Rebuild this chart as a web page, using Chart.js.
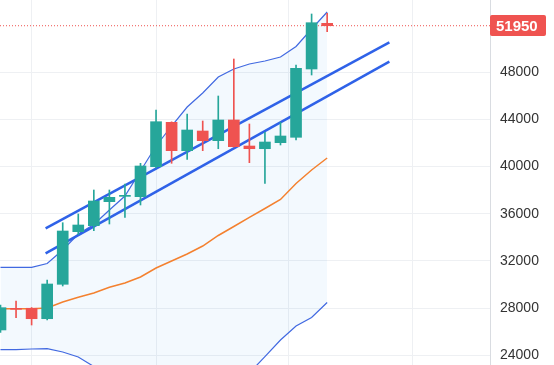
<!DOCTYPE html>
<html><head><meta charset="utf-8">
<script src="https://cdn.jsdelivr.net/npm/chart.js@4/dist/chart.umd.min.js"></script>
<style>html,body{margin:0;padding:0;background:#fff;overflow:hidden}canvas{display:block}</style>
</head><body>
<canvas id="c" width="554" height="365"></canvas>
<script>
// ---- data ----
const opens  = [26150, 27960, 27990, 27105, 30022, 34483, 34992, 37027, 37480, 37451, 39995, 43760, 41352, 43022, 42200, 43955, 41750, 41521, 42030, 42488, 48280, 52155];
const highs  = [28250, 28606, 28050, 30387, 35246, 35984, 38019, 38019, 38528, 40283, 44803, 43800, 44464, 43870, 45990, 49128, 43616, 42912, 43760, 48619, 52944, 53003];
const lows   = [25950, 27190, 26571, 27000, 29878, 34250, 34568, 35136, 35704, 36747, 39900, 40283, 40622, 41352, 41521, 41650, 40334, 38587, 41835, 42259, 47771, 51443];
const closes = [28040, 27900, 27105, 30048, 34542, 35051, 37086, 37400, 37540, 40054, 43811, 41352, 43107, 42200, 43955, 41691, 41521, 42089, 42598, 48339, 52206, 51950];
const upperBand = [31464, 31464, 31464, 31786, 32931, 34288, 35093, 36323, 37510, 39630, 41750, 43446, 45057, 46245, 47601, 48280, 48704, 48958, 49297, 50188, 51672, 53113];
const lowerBand = [24476, 24490, 24535, 24561, 24281, 23857, 23050, 22600, 22100, 21500, 20900, 20500, 20300, 20300, 20700, 21500, 22500, 23891, 25299, 26486, 27207, 28479];
const maLine    = [27953, 27953, 27953, 28013, 28521, 28920, 29285, 29768, 30133, 30641, 31405, 31998, 32592, 33270, 34161, 34924, 35704, 36450, 37213, 38570, 39715, 40733];
const trendUpperX = [2.9, 25.0];
const trendUpperY = [34771, 50544];
const trendLowerX = [2.9, 25.0];
const trendLowerY = [32651, 48899];
const yTickValues = [24000, 28000, 32000, 36000, 40000, 44000, 48000];
const xGridValues = [6, 14, 23, 30];
const lastPrice = closes[closes.length - 1];

// ---- view ----
const X_MIN = -0.032, X_MAX = 31.469;
const Y_MIN = 23179, Y_MAX = 54131;
const UP = '#26a69a', DOWN = '#ef5350';

const idx = closes.map((_, i) => i);
const colors = idx.map(i => closes[i] >= opens[i] ? UP : DOWN);
const pts = arr => arr.map((v, i) => ({x: i, y: v}));

const priceLabel = {
  id: 'priceLabel',
  afterDraw(chart) {
    const {ctx, chartArea, scales} = chart;
    const y = scales.y.getPixelForValue(lastPrice);
    ctx.save();
    ctx.fillStyle = DOWN;
    const x0 = chartArea.right, w = 56, h = 21;
    ctx.beginPath();
    ctx.roundRect(x0, Math.round(y - h / 2), w, h, 2);
    ctx.fill();
    ctx.fillStyle = '#ffffff';
    ctx.font = 'bold 15px "Liberation Sans", Arial, sans-serif';
    ctx.textBaseline = 'middle';
    ctx.textAlign = 'left';
    ctx.fillText(String(lastPrice), x0 + 6, y + 1);
    ctx.restore();
  }
};

new Chart(document.getElementById('c'), {
  type: 'bar',
  data: {
    datasets: [
      { type: 'bar', label: 'body', order: 0, grouped: false,
        data: idx.map(i => ({x: i, y: [opens[i], closes[i]]})),
        backgroundColor: colors, barThickness: 11, minBarLength: 1, borderWidth: 0 },
      { type: 'bar', label: 'wick', order: 1, grouped: false,
        data: idx.map(i => ({x: i, y: [lows[i], highs[i]]})),
        backgroundColor: colors, barThickness: 1, borderWidth: 0 },
      { type: 'line', label: 'trend1', order: 2, data: trendUpperX.map((x, i) => ({x, y: trendUpperY[i]})),
        borderColor: '#2f62e8', borderWidth: 2.5, pointRadius: 0, fill: false },
      { type: 'line', label: 'trend2', order: 3, data: trendLowerX.map((x, i) => ({x, y: trendLowerY[i]})),
        borderColor: '#2f62e8', borderWidth: 2.5, pointRadius: 0, fill: false },
      { type: 'line', label: 'price', order: 4, data: [{x: X_MIN, y: lastPrice}, {x: X_MAX, y: lastPrice}],
        borderColor: DOWN, borderWidth: 1, borderDash: [1, 2], pointRadius: 0, fill: false },
      { type: 'line', label: 'ma', order: 5, data: pts(maLine),
        borderColor: '#f4812f', borderWidth: 1.5, pointRadius: 0, fill: false },
      { type: 'line', label: 'upper', order: 6, data: pts(upperBand),
        borderColor: '#4169e1', borderWidth: 1.2, pointRadius: 0, fill: false },
      { type: 'line', label: 'lower', order: 7, data: pts(lowerBand),
        borderColor: '#4169e1', borderWidth: 1.2, pointRadius: 0,
        fill: '-1', backgroundColor: 'rgba(33,150,243,0.055)' }
    ]
  },
  options: {
    responsive: false,
    animation: false,
    devicePixelRatio: 1,
    layout: { padding: 0 },
    plugins: { legend: { display: false }, tooltip: { enabled: false }, filler: { propagate: false } },
    scales: {
      x: {
        type: 'linear', min: X_MIN, max: X_MAX, offset: false,
        afterBuildTicks: s => { s.ticks = xGridValues.map(v => ({value: v})); },
        afterFit: s => { s.height = 0; s.paddingLeft = 0; s.paddingRight = 0; },
        ticks: { display: false },
        grid: { color: '#eef0f3', drawTicks: false, lineWidth: 1 },
        border: { display: false }
      },
      y: {
        position: 'right', min: Y_MIN, max: Y_MAX,
        afterBuildTicks: s => { s.ticks = yTickValues.map(v => ({value: v})); },
        afterFit: s => { s.width = 64; s.paddingTop = 0; s.paddingBottom = 0; },
        ticks: { padding: 10, color: '#333333', callback: v => String(v),
                 font: { family: '"Liberation Sans", Arial, sans-serif', size: 14 } },
        grid: { color: '#eef0f3', drawTicks: false, lineWidth: 1 },
        border: { display: true, color: '#d9dce1' }
      }
    }
  },
  plugins: [priceLabel]
});
</script>
</body></html>
